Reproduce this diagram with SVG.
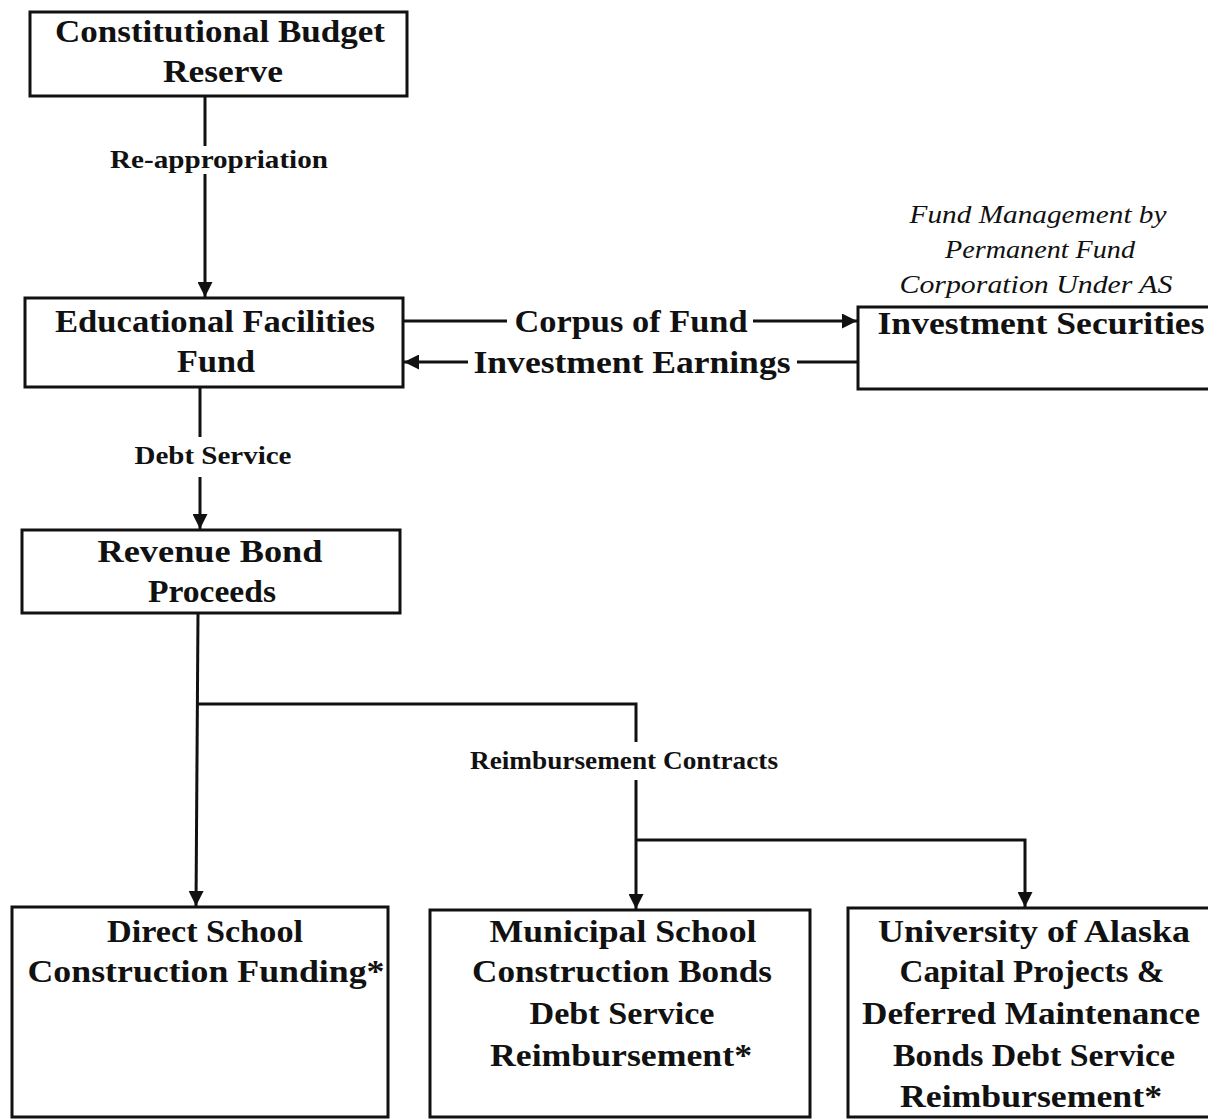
<svg xmlns="http://www.w3.org/2000/svg" width="1208" height="1119" viewBox="0 0 1208 1119">
<style>
.box{fill:#fff;stroke:#111;stroke-width:3}
.t{font-family:"Liberation Serif",serif;font-size:32px;fill:#111;text-anchor:middle;font-weight:bold}
.l{font-family:"Liberation Serif",serif;font-size:25px;fill:#111;text-anchor:middle;font-weight:bold}
.i{font-family:"Liberation Serif",serif;font-size:26px;fill:#111;text-anchor:middle;font-style:italic}
.c{fill:none;stroke:#111;stroke-width:3}
</style>
<defs>
<marker id="ah" viewBox="0 0 10 10" refX="10" refY="5" markerWidth="5" markerHeight="5" orient="auto" markerUnits="strokeWidth">
<path d="M0,0 L10,5 L0,10 z" fill="#111"/>
</marker>
</defs>
<rect width="1208" height="1119" fill="#fff"/>
<g id="connectors">
<line class="c" x1="205" y1="96" x2="205" y2="146"/>
<line class="c" x1="205" y1="174" x2="205" y2="297" marker-end="url(#ah)"/>
<line class="c" x1="403" y1="321" x2="507" y2="321"/>
<line class="c" x1="753" y1="321" x2="857" y2="321" marker-end="url(#ah)"/>
<line class="c" x1="858" y1="362" x2="797" y2="362"/>
<line class="c" x1="468" y1="362" x2="404" y2="362" marker-end="url(#ah)"/>
<line class="c" x1="200" y1="387" x2="200" y2="437"/>
<line class="c" x1="200" y1="477" x2="200" y2="529" marker-end="url(#ah)"/>
<line class="c" x1="198" y1="613" x2="196" y2="906" marker-end="url(#ah)"/>
<polyline class="c" points="198,704 636,704 636,742"/>
<line class="c" x1="636" y1="780" x2="636" y2="909" marker-end="url(#ah)"/>
<polyline class="c" points="636,840 1025,840 1025,907" marker-end="url(#ah)"/>
</g>
<text class="l" x="219" y="168" textLength="218" lengthAdjust="spacingAndGlyphs">Re-appropriation</text>
<text class="l" x="213" y="464" textLength="157" lengthAdjust="spacingAndGlyphs">Debt Service</text>
<text class="l" x="624" y="769" textLength="308" lengthAdjust="spacingAndGlyphs">Reimbursement Contracts</text>
<text class="t" x="631" y="332" textLength="233" lengthAdjust="spacingAndGlyphs">Corpus of Fund</text>
<text class="t" x="632" y="373" textLength="317" lengthAdjust="spacingAndGlyphs">Investment Earnings</text>
<text class="i" x="1038" y="223" textLength="257" lengthAdjust="spacingAndGlyphs">Fund Management by</text>
<text class="i" x="1040" y="258" textLength="190" lengthAdjust="spacingAndGlyphs">Permanent Fund</text>
<text class="i" x="1036" y="293" textLength="273" lengthAdjust="spacingAndGlyphs">Corporation Under AS</text>
<g id="cbr">
<rect class="box" x="30" y="12" width="377" height="84"/>
<text class="t" x="220" y="42" textLength="330" lengthAdjust="spacingAndGlyphs">Constitutional Budget</text>
<text class="t" x="223" y="82" textLength="120" lengthAdjust="spacingAndGlyphs">Reserve</text>
</g>
<g id="eff">
<rect class="box" x="25" y="298" width="378" height="89"/>
<text class="t" x="215" y="332" textLength="320" lengthAdjust="spacingAndGlyphs">Educational Facilities</text>
<text class="t" x="216" y="372" textLength="78" lengthAdjust="spacingAndGlyphs">Fund</text>
</g>
<g id="inv">
<rect class="box" x="858" y="307" width="360" height="82"/>
<text class="t" x="1041" y="334" textLength="327" lengthAdjust="spacingAndGlyphs">Investment Securities</text>
</g>
<g id="rbp">
<rect class="box" x="22" y="530" width="378" height="83"/>
<text class="t" x="210" y="562" textLength="225" lengthAdjust="spacingAndGlyphs">Revenue Bond</text>
<text class="t" x="212" y="602" textLength="128" lengthAdjust="spacingAndGlyphs">Proceeds</text>
</g>
<g id="dsc">
<rect class="box" x="12" y="907" width="376" height="210"/>
<text class="t" x="205" y="942" textLength="196" lengthAdjust="spacingAndGlyphs">Direct School</text>
<text class="t" x="206" y="982" textLength="357" lengthAdjust="spacingAndGlyphs">Construction Funding*</text>
</g>
<g id="msc">
<rect class="box" x="430" y="910" width="380" height="207"/>
<text class="t" x="623" y="942" textLength="267" lengthAdjust="spacingAndGlyphs">Municipal School</text>
<text class="t" x="622" y="982" textLength="300" lengthAdjust="spacingAndGlyphs">Construction Bonds</text>
<text class="t" x="622" y="1024" textLength="185" lengthAdjust="spacingAndGlyphs">Debt Service</text>
<text class="t" x="621" y="1066" textLength="262" lengthAdjust="spacingAndGlyphs">Reimbursement*</text>
</g>
<g id="ua">
<rect class="box" x="848" y="908" width="370" height="209"/>
<text class="t" x="1034" y="942" textLength="312" lengthAdjust="spacingAndGlyphs">University of Alaska</text>
<text class="t" x="1032" y="982" textLength="265" lengthAdjust="spacingAndGlyphs">Capital Projects &amp;</text>
<text class="t" x="1031" y="1024" textLength="338" lengthAdjust="spacingAndGlyphs">Deferred Maintenance</text>
<text class="t" x="1034" y="1066" textLength="282" lengthAdjust="spacingAndGlyphs">Bonds Debt Service</text>
<text class="t" x="1031" y="1107" textLength="262" lengthAdjust="spacingAndGlyphs">Reimbursement*</text>
</g>
</svg>
